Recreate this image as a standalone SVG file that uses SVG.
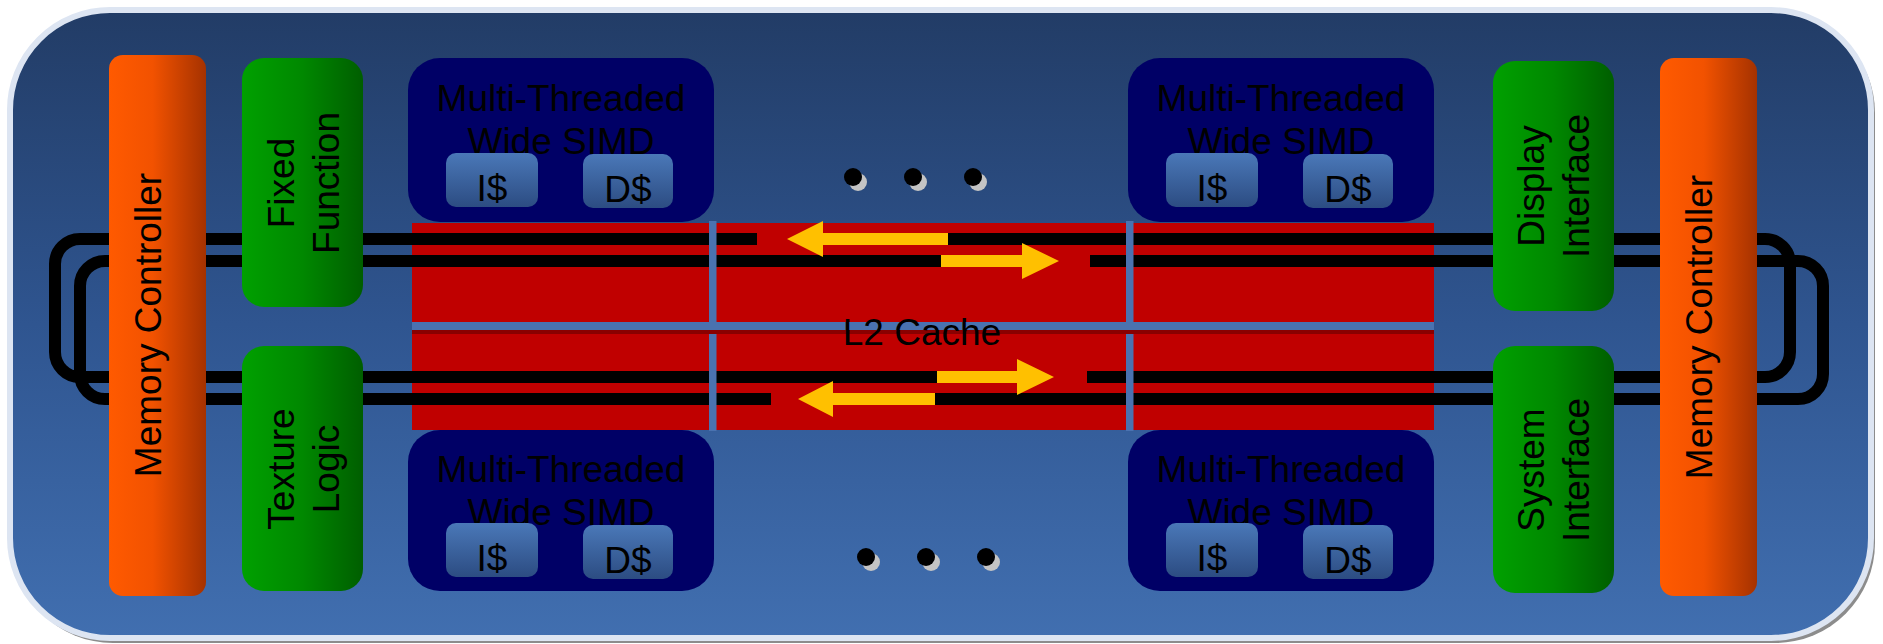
<svg xmlns="http://www.w3.org/2000/svg" width="1883" height="644" viewBox="0 0 1883 644">
<defs>
<linearGradient id="bgG" x1="0" y1="0" x2="0" y2="1">
<stop offset="0" stop-color="#223c66"/>
<stop offset="0.5" stop-color="#2f5590"/>
<stop offset="1" stop-color="#416fb0"/>
</linearGradient>
<linearGradient id="orG" x1="0" y1="0" x2="1" y2="0">
<stop offset="0" stop-color="#ff5a00"/>
<stop offset="0.45" stop-color="#f25200"/>
<stop offset="1" stop-color="#a53200"/>
</linearGradient>
<linearGradient id="grG" x1="0" y1="0" x2="1" y2="0">
<stop offset="0" stop-color="#00a000"/>
<stop offset="0.5" stop-color="#008800"/>
<stop offset="1" stop-color="#005e00"/>
</linearGradient>
<linearGradient id="cG" x1="0" y1="0" x2="0" y2="1">
<stop offset="0" stop-color="#4a78b8"/>
<stop offset="1" stop-color="#2c4c82"/>
</linearGradient>
</defs>
<style>
.t{font-family:"Liberation Sans",Arial,sans-serif;font-size:37px;fill:#000;}
.m{text-anchor:middle;}
.mc{fill:url(#orG);}
.gr{fill:url(#grG);}
.simd{fill:#000066;}
.cache{fill:url(#cG);}
.bus{fill:none;stroke:#000;stroke-width:12;}
.arr{fill:#ffc000;}
.vl{fill:#4a72b0;}
.dot{fill:#000;}
.dsh{fill:#c4c4c4;}
</style>

<!-- background -->
<rect x="13" y="13" width="1862" height="630" rx="100" fill="#8c8c8c"/>
<rect x="10" y="10" width="1861" height="628" rx="100" fill="url(#bgG)" stroke="#dde5f2" stroke-width="6"/>

<!-- L2 cache -->
<g id="l2cache">
<rect x="412" y="223" width="1022" height="207" fill="#c00000"/>
</g>

<g id="connectors">
<path class="bus" d="M757 239 H80 A25 25 0 0 0 55 264 V352 A25 25 0 0 0 80 377 H937"/>
<path class="bus" d="M948 239 H1765 A25 25 0 0 1 1790 264 V352 A25 25 0 0 1 1765 377 H1087"/>
<path class="bus" d="M941 261 H105 A25 25 0 0 0 80 286 V374 A25 25 0 0 0 105 399 H771"/>
<path class="bus" d="M1090 261 H1798 A25 25 0 0 1 1823 286 V374 A25 25 0 0 1 1798 399 H935"/>
<polygon class="arr" points="787,239 823,221 823,233 948,233 948,245 823,245 823,257"/>
<polygon class="arr" points="1059,261 1022,243 1022,255 941,255 941,267 1022,267 1022,279"/>
<polygon class="arr" points="1054,377 1017,359 1017,371 937,371 937,383 1017,383 1017,395"/>
<polygon class="arr" points="798,399 833,381 833,393 935,393 935,405 833,405 833,417"/>
</g>

<g id="l2grid">
<rect class="vl" x="709" y="221" width="7.5" height="210"/>
<rect class="vl" x="1126" y="221" width="7.5" height="210"/>
<rect class="vl" x="412" y="322" width="1022" height="8"/>
<rect x="412" y="330" width="1022" height="4" fill="#8a0000"/>
<text class="t m" x="922" y="345">L2 Cache</text>
</g>

<g id="memctrl-left">
<rect class="mc" x="109" y="55" width="97" height="541" rx="14"/>
<text class="t m" transform="translate(161,325) rotate(-90)">Memory Controller</text>
</g>
<g id="memctrl-right">
<rect class="mc" x="1660" y="58" width="97" height="538" rx="14"/>
<text class="t m" transform="translate(1712,327) rotate(-90)">Memory Controller</text>
</g>

<g id="fixed-function">
<rect class="gr" x="242" y="58" width="121" height="249" rx="22"/>
<text class="t m" transform="translate(294,183) rotate(-90)"><tspan x="0" y="0">Fixed</tspan><tspan x="0" y="45">Function</tspan></text>
</g>
<g id="texture-logic">
<rect class="gr" x="242" y="346" width="121" height="245" rx="22"/>
<text class="t m" transform="translate(294,469) rotate(-90)"><tspan x="0" y="0">Texture</tspan><tspan x="0" y="45">Logic</tspan></text>
</g>
<g id="display-interface">
<rect class="gr" x="1493" y="61" width="121" height="250" rx="22"/>
<text class="t m" transform="translate(1544,186) rotate(-90)"><tspan x="0" y="0">Display</tspan><tspan x="0" y="45">Interface</tspan></text>
</g>
<g id="system-interface">
<rect class="gr" x="1493" y="346" width="121" height="247" rx="22"/>
<text class="t m" transform="translate(1544,470) rotate(-90)"><tspan x="0" y="0">System</tspan><tspan x="0" y="45">Interface</tspan></text>
</g>

<g id="simd-top-left">
<rect class="simd" x="408" y="58" width="306" height="164" rx="32"/>
<text class="t m" x="561" y="111">Multi-Threaded</text>
<text class="t m" x="561" y="154">Wide SIMD</text>
<rect class="cache" x="446" y="153" width="92" height="54" rx="10"/>
<rect class="cache" x="583" y="154" width="90" height="54" rx="10"/>
<text class="t m" x="492" y="201">I$</text>
<text class="t m" x="628" y="202">D$</text>
</g>
<g id="simd-top-right">
<rect class="simd" x="1128" y="58" width="306" height="164" rx="32"/>
<text class="t m" x="1281" y="111">Multi-Threaded</text>
<text class="t m" x="1281" y="154">Wide SIMD</text>
<rect class="cache" x="1166" y="153" width="92" height="54" rx="10"/>
<rect class="cache" x="1303" y="154" width="90" height="54" rx="10"/>
<text class="t m" x="1212" y="201">I$</text>
<text class="t m" x="1348" y="202">D$</text>
</g>
<g id="simd-bottom-left">
<rect class="simd" x="408" y="430" width="306" height="161" rx="32"/>
<text class="t m" x="561" y="482">Multi-Threaded</text>
<text class="t m" x="561" y="525">Wide SIMD</text>
<rect class="cache" x="446" y="523" width="92" height="54" rx="10"/>
<rect class="cache" x="583" y="525" width="90" height="54" rx="10"/>
<text class="t m" x="492" y="571">I$</text>
<text class="t m" x="628" y="573">D$</text>
</g>
<g id="simd-bottom-right">
<rect class="simd" x="1128" y="430" width="306" height="161" rx="32"/>
<text class="t m" x="1281" y="482">Multi-Threaded</text>
<text class="t m" x="1281" y="525">Wide SIMD</text>
<rect class="cache" x="1166" y="523" width="92" height="54" rx="10"/>
<rect class="cache" x="1303" y="525" width="90" height="54" rx="10"/>
<text class="t m" x="1212" y="571">I$</text>
<text class="t m" x="1348" y="573">D$</text>
</g>

<g id="ellipsis-top">
<circle class="dsh" cx="858" cy="182" r="9"/><circle class="dot" cx="853" cy="177" r="9"/>
<circle class="dsh" cx="918" cy="182" r="9"/><circle class="dot" cx="913" cy="177" r="9"/>
<circle class="dsh" cx="978" cy="182" r="9"/><circle class="dot" cx="973" cy="177" r="9"/>
</g>
<g id="ellipsis-bottom">
<circle class="dsh" cx="871" cy="562" r="9"/><circle class="dot" cx="866" cy="557" r="9"/>
<circle class="dsh" cx="931" cy="562" r="9"/><circle class="dot" cx="926" cy="557" r="9"/>
<circle class="dsh" cx="991" cy="562" r="9"/><circle class="dot" cx="986" cy="557" r="9"/>
</g>
</svg>
